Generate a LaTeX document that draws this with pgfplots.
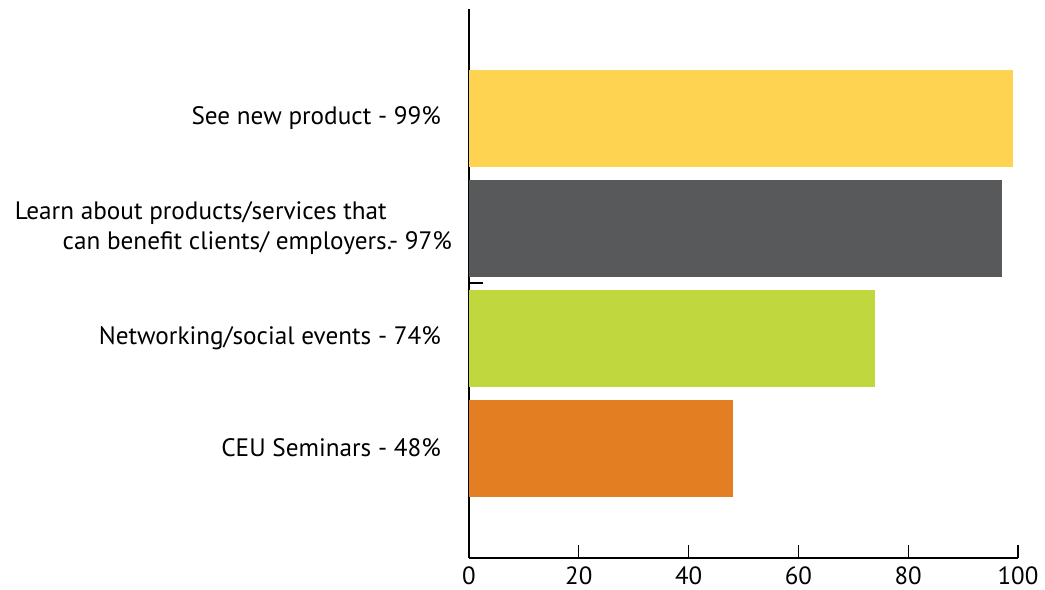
\documentclass[border=0pt]{standalone}
\usepackage{pgfplots}
\pgfplotsset{compat=1.18}
\usepackage{fontspec}
\setmainfont{PT Sans}
\definecolor{cyellow}{HTML}{FDD351}
\definecolor{cgray}{HTML}{58595B}
\definecolor{cgreen}{HTML}{C0D83D}
\definecolor{corange}{HTML}{E37F22}
\begin{document}
\begin{tikzpicture}
\path[use as bounding box] (-469bp,-32bp) rectangle (576bp,558bp);
\begin{axis}[
  at={(0,0)}, anchor=south west,
  scale only axis, width=549bp, height=549bp,
  xmin=0, xmax=100, ymin=9, ymax=558, y dir=reverse,
  axis x line=bottom, axis y line=left,
  axis line style={-, line width=1.3bp, black},
  xbar, bar width=97, bar shift=0pt,
  tick align=inside,
  major tick length=13bp,
  xtick={0,20,40,60,80,100},
  xticklabel style={font=\fontsize{25}{28}\selectfont, inner sep=0pt, anchor=north, yshift=-9bp},
  /pgf/number format/assume math mode=true,
  ytick={118.5,228,338,448},
  yticklabels={See new product - 99\%,
    {Learn about products/services that\hspace*{54bp}\\can benefit clients/ employers.- 97\%\hspace*{-11bp}},
    Networking/social events - 74\%,
    CEU Seminars - 48\%},
  yticklabel style={font=\fontsize{25.3}{30}\selectfont, align=right, inner sep=0pt, anchor=east, xshift=-28bp},
  ytick style={draw=none},
  tick style={line width=1.3bp, black},
  extra y ticks={283},
  extra y tick labels={},
  extra y tick style={ytick style={draw=black, line width=1.3bp}, major tick length=14bp},
]
\addplot[fill=cyellow, draw=none] coordinates {(99,118.5)};
\addplot[fill=cgray, draw=none] coordinates {(97,228)};
\addplot[fill=cgreen, draw=none] coordinates {(74,338)};
\addplot[fill=corange, draw=none] coordinates {(48,448)};
\end{axis}
\end{tikzpicture}
\end{document}
